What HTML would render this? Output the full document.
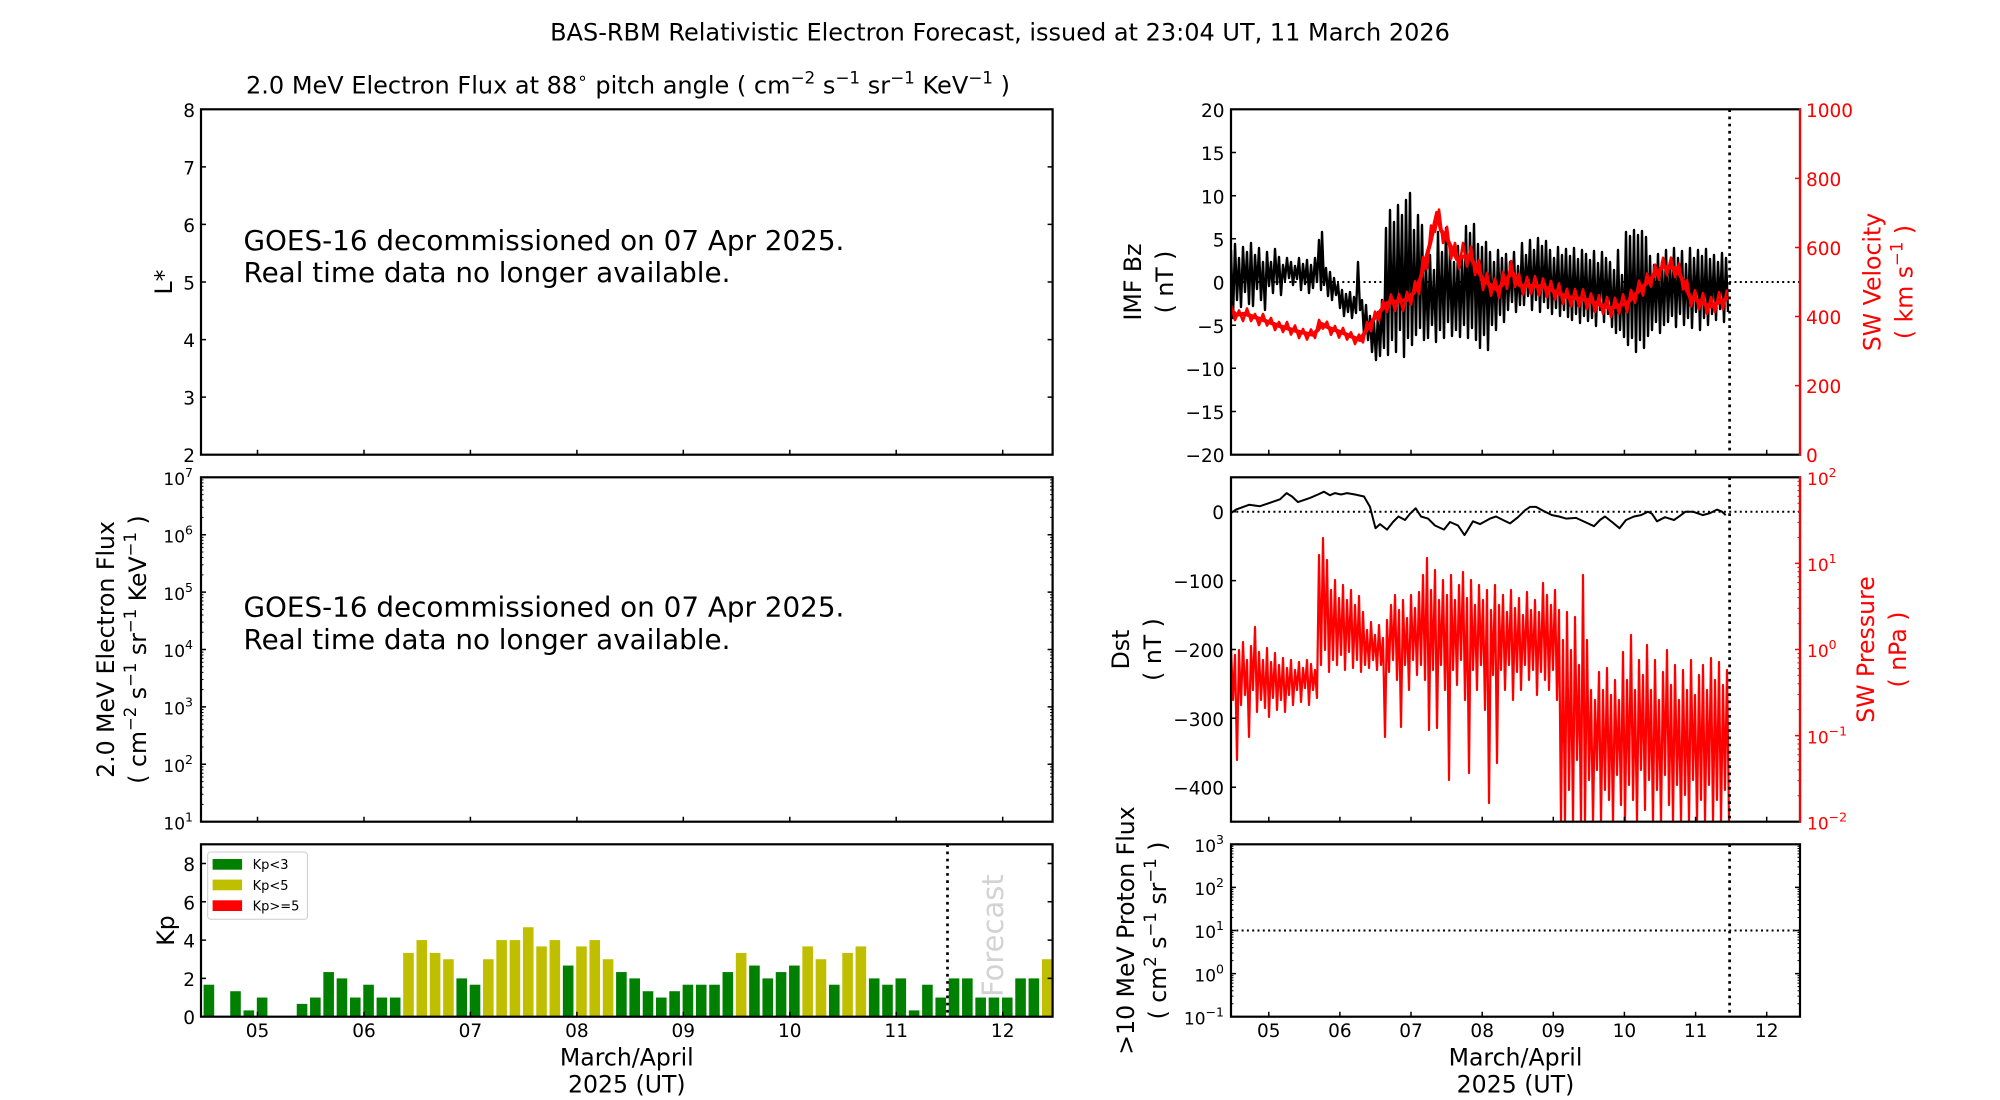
<!DOCTYPE html>
<html><head><meta charset="utf-8">
<style>
html,body{margin:0;padding:0;background:#fff;}
svg{display:block;font-family:"DejaVu Sans","Liberation Sans",sans-serif;}
</style></head><body>
<svg width="2000" height="1100" viewBox="0 0 2000 1100" xmlns="http://www.w3.org/2000/svg">
<defs>
<clipPath id="cA"><rect x="1231" y="109.3" width="569" height="345.4"/></clipPath>
<clipPath id="cB"><rect x="1231" y="477.3" width="569" height="344.4"/></clipPath>
<clipPath id="cC"><rect x="201" y="844.3" width="851.6" height="172.4"/></clipPath>
<path id="dtL" d="M257.5 0v-5M364 0v-5M470.4 0v-5M576.9 0v-5M683.3 0v-5M789.8 0v-5M896.2 0v-5M1002.7 0v-5" stroke="#000" stroke-width="1.5"/>
<path id="dtR" d="M1268.8 0v-5M1339.9 0v-5M1411 0v-5M1482.2 0v-5M1553.3 0v-5M1624.4 0v-5M1695.6 0v-5M1766.7 0v-5" stroke="#000" stroke-width="1.5"/>
<path id="mL57" d="M0 -17.28h2.5M0 -27.39h2.5M0 -34.56h2.5M0 -40.12h2.5M0 -44.67h2.5M0 -48.51h2.5M0 -51.84h2.5M0 -54.77h2.5" stroke="#000" stroke-width="1"/>
<path id="mR57" d="M0 -17.28h-2.5M0 -27.39h-2.5M0 -34.56h-2.5M0 -40.12h-2.5M0 -44.67h-2.5M0 -48.51h-2.5M0 -51.84h-2.5M0 -54.77h-2.5" stroke="#000" stroke-width="1"/>
<path id="mR86" d="M0 -25.92h-2.5M0 -41.08h-2.5M0 -51.84h-2.5M0 -60.18h-2.5M0 -67h-2.5M0 -72.76h-2.5M0 -77.76h-2.5M0 -82.16h-2.5" stroke="#ff0000" stroke-width="1"/>
<path id="mL43" d="M0 -12.97h2.5M0 -20.56h2.5M0 -25.95h2.5M0 -30.12h2.5M0 -33.54h2.5M0 -36.42h2.5M0 -38.92h2.5M0 -41.13h2.5" stroke="#000" stroke-width="1"/>
<path id="mR43" d="M0 -12.97h-2.5M0 -20.56h-2.5M0 -25.95h-2.5M0 -30.12h-2.5M0 -33.54h-2.5M0 -36.42h-2.5M0 -38.92h-2.5M0 -41.13h-2.5" stroke="#000" stroke-width="1"/>
</defs>
<rect width="2000" height="1100" fill="#fff"/>

<!-- Titles -->
<text x="1000" y="40.7" text-anchor="middle" font-size="24">BAS-RBM Relativistic Electron Forecast, issued at 23:04 UT, 11 March 2026</text>
<text x="628" y="93.3" text-anchor="middle" font-size="24">2.0 MeV Electron Flux at 88<tspan font-size="16.8" dy="-10">∘</tspan><tspan dy="10">  pitch angle ( cm</tspan><tspan font-size="16.8" dy="-10">−2</tspan><tspan dy="10"> s</tspan><tspan font-size="16.8" dy="-10">−1</tspan><tspan dy="10"> sr</tspan><tspan font-size="16.8" dy="-10">−1</tspan><tspan dy="10"> KeV</tspan><tspan font-size="16.8" dy="-10">−1</tspan><tspan dy="10"> )</tspan></text>

<!-- Left panel texts -->
<text x="243.5" y="250" font-size="27.8">GOES-16 decommissioned on 07 Apr 2025.</text>
<text x="243.5" y="282" font-size="27.8">Real time data no longer available.</text>
<text x="243.5" y="616.7" font-size="27.8">GOES-16 decommissioned on 07 Apr 2025.</text>
<text x="243.5" y="649" font-size="27.8">Real time data no longer available.</text>

<!-- L* tick labels -->
<g font-size="18.5" text-anchor="end">
<text x="195" y="117">8</text>
<text x="195" y="174.5">7</text>
<text x="195" y="232">6</text>
<text x="195" y="289.5">5</text>
<text x="195" y="347">4</text>
<text x="195" y="404.6">3</text>
<text x="195" y="462.2">2</text>
</g>
<g font-size="17" text-anchor="end">
<text x="193" y="485">10<tspan font-size="12.5" dy="-8">7</tspan></text>
<text x="193" y="542.4">10<tspan font-size="12.5" dy="-8">6</tspan></text>
<text x="193" y="599.8">10<tspan font-size="12.5" dy="-8">5</tspan></text>
<text x="193" y="657.2">10<tspan font-size="12.5" dy="-8">4</tspan></text>
<text x="193" y="714.6">10<tspan font-size="12.5" dy="-8">3</tspan></text>
<text x="193" y="772">10<tspan font-size="12.5" dy="-8">2</tspan></text>
<text x="193" y="829.4">10<tspan font-size="12.5" dy="-8">1</tspan></text>
</g>
<g font-size="18.5" text-anchor="end">
<text x="195" y="871">8</text>
<text x="195" y="909.3">6</text>
<text x="195" y="947.6">4</text>
<text x="195" y="985.9">2</text>
<text x="195" y="1024.2">0</text>
</g>
<g font-size="18.5" text-anchor="middle">
<text x="257.5" y="1037">05</text>
<text x="364" y="1037">06</text>
<text x="470.4" y="1037">07</text>
<text x="576.9" y="1037">08</text>
<text x="683.3" y="1037">09</text>
<text x="789.8" y="1037">10</text>
<text x="896.2" y="1037">11</text>
<text x="1002.7" y="1037">12</text>
</g>
<text x="626.8" y="1065.5" text-anchor="middle" font-size="23.6">March/April</text>
<text x="626.8" y="1092.5" text-anchor="middle" font-size="23.6">2025 (UT)</text>

<text transform="translate(172,282) rotate(-90)" text-anchor="middle" font-size="23.6">L*</text>
<text transform="translate(114,649.5) rotate(-90)" text-anchor="middle" font-size="23.6">2.0 MeV Electron Flux</text>
<text transform="translate(146,649.5) rotate(-90)" text-anchor="middle" font-size="23.6">( cm<tspan font-size="16.5" dy="-10">−2</tspan><tspan dy="10"> s</tspan><tspan font-size="16.5" dy="-10">−1</tspan><tspan dy="10"> sr</tspan><tspan font-size="16.5" dy="-10">−1</tspan><tspan dy="10"> KeV</tspan><tspan font-size="16.5" dy="-10">−1</tspan><tspan dy="10"> )</tspan></text>
<text transform="translate(174,930.5) rotate(-90)" text-anchor="middle" font-size="23.6">Kp</text>

<!-- IMF labels -->
<g font-size="18.5" text-anchor="end">
<text x="1224.5" y="117">20</text>
<text x="1224.5" y="160.2">15</text>
<text x="1224.5" y="203.3">10</text>
<text x="1224.5" y="246.5">5</text>
<text x="1224.5" y="289.6">0</text>
<text x="1224.5" y="332.8">−5</text>
<text x="1224.5" y="376">−10</text>
<text x="1224.5" y="419.1">−15</text>
<text x="1224.5" y="462.2">−20</text>
</g>
<g font-size="18.5" fill="#ff0000">
<text x="1806" y="117">1000</text>
<text x="1806" y="186">800</text>
<text x="1806" y="255">600</text>
<text x="1806" y="324.1">400</text>
<text x="1806" y="393.2">200</text>
<text x="1806" y="462.2">0</text>
</g>
<text transform="translate(1141,282) rotate(-90)" text-anchor="middle" font-size="23.6">IMF Bz</text>
<text transform="translate(1173,282) rotate(-90)" text-anchor="middle" font-size="23.6">( nT )</text>
<text transform="translate(1880.3,282) rotate(-90)" text-anchor="middle" font-size="23.6" fill="#ff0000">SW Velocity</text>
<text transform="translate(1912.3,282) rotate(-90)" text-anchor="middle" font-size="23.6" fill="#ff0000">( km s<tspan font-size="16.5" dy="-10">−1</tspan><tspan dy="10"> )</tspan></text>

<!-- Dst labels -->
<g font-size="18.5" text-anchor="end">
<text x="1224" y="519.2">0</text>
<text x="1224" y="588.1">−100</text>
<text x="1224" y="657">−200</text>
<text x="1224" y="725.8">−300</text>
<text x="1224" y="794.7">−400</text>
</g>
<g font-size="17" fill="#ff0000">
<text x="1807" y="485">10<tspan font-size="12.5" dy="-8">2</tspan></text>
<text x="1807" y="571.1">10<tspan font-size="12.5" dy="-8">1</tspan></text>
<text x="1807" y="657.2">10<tspan font-size="12.5" dy="-8">0</tspan></text>
<text x="1807" y="743.3">10<tspan font-size="12.5" dy="-8">−1</tspan></text>
<text x="1807" y="829.4">10<tspan font-size="12.5" dy="-8">−2</tspan></text>
</g>
<text transform="translate(1128.9,649.5) rotate(-90)" text-anchor="middle" font-size="23.6">Dst</text>
<text transform="translate(1160.9,649.5) rotate(-90)" text-anchor="middle" font-size="23.6">( nT )</text>
<text transform="translate(1874.1,649.5) rotate(-90)" text-anchor="middle" font-size="23.6" fill="#ff0000">SW Pressure</text>
<text transform="translate(1906.1,649.5) rotate(-90)" text-anchor="middle" font-size="23.6" fill="#ff0000">( nPa )</text>

<!-- Proton labels -->
<g font-size="17" text-anchor="end">
<text x="1224" y="852">10<tspan font-size="12.5" dy="-8">3</tspan></text>
<text x="1224" y="895.1">10<tspan font-size="12.5" dy="-8">2</tspan></text>
<text x="1224" y="938.2">10<tspan font-size="12.5" dy="-8">1</tspan></text>
<text x="1224" y="981.3">10<tspan font-size="12.5" dy="-8">0</tspan></text>
<text x="1224" y="1024.4">10<tspan font-size="12.5" dy="-8">−1</tspan></text>
</g>
<text transform="translate(1134.2,930.5) rotate(-90)" text-anchor="middle" font-size="23.6">&gt;10 MeV Proton Flux</text>
<text transform="translate(1166.2,930.5) rotate(-90)" text-anchor="middle" font-size="23.6">( cm<tspan font-size="16.5" dy="-10">2</tspan><tspan dy="10"> s</tspan><tspan font-size="16.5" dy="-10">−1</tspan><tspan dy="10"> sr</tspan><tspan font-size="16.5" dy="-10">−1</tspan><tspan dy="10"> )</tspan></text>
<g font-size="18.5" text-anchor="middle">
<text x="1268.8" y="1037">05</text>
<text x="1339.9" y="1037">06</text>
<text x="1411" y="1037">07</text>
<text x="1482.2" y="1037">08</text>
<text x="1553.3" y="1037">09</text>
<text x="1624.4" y="1037">10</text>
<text x="1695.6" y="1037">11</text>
<text x="1766.7" y="1037">12</text>
</g>
<text x="1515.5" y="1065.5" text-anchor="middle" font-size="23.6">March/April</text>
<text x="1515.5" y="1092.5" text-anchor="middle" font-size="23.6">2025 (UT)</text>

<!-- dotted reference lines -->
<g fill="none" stroke="#000" stroke-width="2" stroke-dasharray="2 3.3">
<line x1="1231" y1="282" x2="1800" y2="282"/>
<line x1="1231" y1="511.7" x2="1800" y2="511.7"/>
<line x1="1231" y1="930.5" x2="1800" y2="930.5"/>
</g>

<!-- Kp bars -->
<g clip-path="url(#cC)">
<g fill="#008000">
<rect x="203.6" y="984.71" width="10.6" height="31.99"/>
<rect x="230.21" y="991.22" width="10.6" height="25.48"/>
<rect x="243.52" y="1010.38" width="10.6" height="6.32"/>
<rect x="256.82" y="997.54" width="10.6" height="19.16"/>
<rect x="296.74" y="1003.87" width="10.6" height="12.83"/>
<rect x="310.05" y="997.54" width="10.6" height="19.16"/>
<rect x="323.35" y="972.07" width="10.6" height="44.63"/>
<rect x="336.66" y="978.39" width="10.6" height="38.31"/>
<rect x="349.97" y="997.54" width="10.6" height="19.16"/>
<rect x="363.27" y="984.71" width="10.6" height="31.99"/>
<rect x="376.58" y="997.54" width="10.6" height="19.16"/>
<rect x="389.88" y="997.54" width="10.6" height="19.16"/>
<rect x="456.41" y="978.39" width="10.6" height="38.31"/>
<rect x="469.72" y="984.71" width="10.6" height="31.99"/>
<rect x="562.86" y="965.55" width="10.6" height="51.15"/>
<rect x="616.09" y="972.07" width="10.6" height="44.63"/>
<rect x="629.39" y="978.39" width="10.6" height="38.31"/>
<rect x="642.7" y="991.22" width="10.6" height="25.48"/>
<rect x="656" y="997.54" width="10.6" height="19.16"/>
<rect x="669.31" y="991.22" width="10.6" height="25.48"/>
<rect x="682.62" y="984.71" width="10.6" height="31.99"/>
<rect x="695.92" y="984.71" width="10.6" height="31.99"/>
<rect x="709.23" y="984.71" width="10.6" height="31.99"/>
<rect x="722.53" y="972.07" width="10.6" height="44.63"/>
<rect x="749.15" y="965.55" width="10.6" height="51.15"/>
<rect x="762.45" y="978.39" width="10.6" height="38.31"/>
<rect x="775.76" y="972.07" width="10.6" height="44.63"/>
<rect x="789.06" y="965.55" width="10.6" height="51.15"/>
<rect x="828.98" y="984.71" width="10.6" height="31.99"/>
<rect x="868.9" y="978.39" width="10.6" height="38.31"/>
<rect x="882.21" y="984.71" width="10.6" height="31.99"/>
<rect x="895.51" y="978.39" width="10.6" height="38.31"/>
<rect x="908.82" y="1010.38" width="10.6" height="6.32"/>
<rect x="922.12" y="984.71" width="10.6" height="31.99"/>
<rect x="935.43" y="997.54" width="10.6" height="19.16"/>
<rect x="948.74" y="978.39" width="10.6" height="38.31"/>
<rect x="962.04" y="978.39" width="10.6" height="38.31"/>
<rect x="975.35" y="997.54" width="10.6" height="19.16"/>
<rect x="988.65" y="997.54" width="10.6" height="19.16"/>
<rect x="1001.96" y="997.54" width="10.6" height="19.16"/>
<rect x="1015.27" y="978.39" width="10.6" height="38.31"/>
<rect x="1028.57" y="978.39" width="10.6" height="38.31"/>
</g>
<g fill="#bfbf00">
<rect x="403.19" y="952.91" width="10.6" height="63.79"/>
<rect x="416.5" y="940.08" width="10.6" height="76.62"/>
<rect x="429.8" y="952.91" width="10.6" height="63.79"/>
<rect x="443.11" y="959.23" width="10.6" height="57.47"/>
<rect x="483.03" y="959.23" width="10.6" height="57.47"/>
<rect x="496.33" y="940.08" width="10.6" height="76.62"/>
<rect x="509.64" y="940.08" width="10.6" height="76.62"/>
<rect x="522.94" y="927.24" width="10.6" height="89.46"/>
<rect x="536.25" y="946.4" width="10.6" height="70.3"/>
<rect x="549.56" y="940.08" width="10.6" height="76.62"/>
<rect x="576.17" y="946.4" width="10.6" height="70.3"/>
<rect x="589.47" y="940.08" width="10.6" height="76.62"/>
<rect x="602.78" y="959.23" width="10.6" height="57.47"/>
<rect x="735.84" y="952.91" width="10.6" height="63.79"/>
<rect x="802.37" y="946.4" width="10.6" height="70.3"/>
<rect x="815.68" y="959.23" width="10.6" height="57.47"/>
<rect x="842.29" y="952.91" width="10.6" height="63.79"/>
<rect x="855.59" y="946.4" width="10.6" height="70.3"/>
<rect x="1041.88" y="959.23" width="10.6" height="57.47"/>
</g>
</g>
<text transform="translate(1003,997) rotate(-90)" font-size="29" fill="#d3d3d3">Forecast</text>

<!-- IMF Bz data -->
<g clip-path="url(#cA)" fill="none" stroke-linejoin="round">
<path stroke="#000" stroke-width="2.4" d="M1231 250L1233 318L1235 244L1237 300L1239 258L1241 307L1243 247L1245 292L1247 252L1249 304L1251 243L1253 306L1255 255L1257 289L1259 248L1261 300L1263 262L1265 310L1267 252L1269 286L1271 262L1273 293L1275 249L1277 284L1279 257L1281 295L1283 265L1285 280L1287 258L1289 278L1291 262L1293 285L1295 266L1297 279L1299 258L1301 290L1303 264L1305 284L1307 260L1309 293L1311 265L1313 288L1315 258L1317 282L1319 240L1321 290L1322 232L1324 285L1326 268L1328 296L1330 272L1332 300L1334 278L1336 295L1338 284L1340 308L1342 290L1344 316L1346 294L1348 312L1350 292L1352 318L1354 297L1356 313L1358 262L1360 310L1362 300L1364 335L1366 305L1368 340L1370 316L1372 352L1374 322L1376 360L1378 312L1380 356L1382 300L1384 348L1386 228L1388 355L1390 210L1392 340L1394 222L1396 352L1398 205L1400 330L1402 215L1404 357L1406 200L1408 338L1410 193L1412 345L1414 230L1416 335L1418 215L1420 328L1422 225L1424 340L1426 262L1428 338L1430 255L1432 325L1434 270L1436 342L1438 232L1440 330L1442 252L1444 338L1446 228L1448 322L1450 250L1452 336L1454 262L1456 330L1458 246L1460 337L1462 258L1464 325L1466 226L1468 338L1470 233L1472 328L1474 224L1476 340L1478 244L1480 348L1482 247L1484 335L1486 242L1488 350L1490 252L1492 325L1494 262L1496 330L1498 250L1500 315L1502 258L1504 322L1506 254L1508 310L1510 262L1512 302L1514 252L1516 312L1518 266L1520 305L1522 243L1524 305L1526 255L1528 296L1530 240L1532 310L1534 250L1536 300L1538 238L1540 312L1542 246L1544 302L1546 241L1548 308L1550 250L1552 314L1554 258L1556 308L1558 247L1560 316L1562 255L1564 310L1566 249L1568 317L1570 256L1572 320L1574 248L1576 314L1578 259L1580 323L1582 250L1584 316L1586 254L1588 321L1590 260L1592 318L1594 251L1596 326L1598 263L1600 310L1602 252L1604 322L1606 258L1608 314L1610 262L1612 327L1614 270L1616 333L1618 250L1620 330L1622 275L1624 337L1626 232L1628 345L1630 236L1632 338L1634 230L1636 352L1638 235L1640 340L1642 231L1644 348L1646 237L1648 336L1650 256L1652 330L1654 265L1656 322L1658 254L1660 333L1662 262L1664 325L1666 250L1668 322L1670 262L1672 316L1674 248L1676 327L1678 258L1680 314L1682 251L1684 325L1686 264L1688 318L1690 248L1692 328L1694 258L1696 312L1698 250L1700 330L1702 256L1704 318L1706 249L1708 325L1710 259L1712 314L1714 255L1716 320L1718 262L1720 309L1722 253L1724 322L1726 258L1728 312"/>
<!-- SW velocity -->
<path stroke="#ff0000" stroke-width="4" d="M1231 309.6L1236 314.8L1245 313.8L1263 320L1280 326.2L1300 332.1L1313 334.8L1318 329.7L1322 324.1L1330 328.3L1345 333.8L1360 340L1373 320L1387 303.1L1400 301L1407 300L1414 292.4L1420 279.9L1430 244L1437 212.9L1441 230.2L1447 238.8L1457 259.2L1465 256.1L1470 256.8L1477 268.2L1483 279.9L1497 289.9L1505 282L1512 271.6L1520 285.5L1543 286.5L1567 296.8L1587 300L1610 308.3L1627 303.1L1643 286.5L1663 266.8L1677 268.2L1690 296.8L1710 306.5L1729 297.5"/>
<path stroke="#ff0000" stroke-width="2.6" d="M1231 305L1235 320L1239 310.5L1243 321L1247 308.5L1251 321L1255 314L1259 325L1263 314L1267 325.5L1271 318L1275 330L1279 322L1283 332L1287 322L1291 334.5L1295 325.5L1299 338L1303 329L1307 339.5L1311 329.5L1315 338L1319 320L1323 328.6L1327 321.7L1331 334.7L1335 326L1339 337.6L1343 328L1347 339.6L1351 332.3L1355 344L1359 334.6L1363 342.4L1367 322L1371 331L1375 311.6L1379 320.8L1383 301L1387 312L1391 294.5L1395 310.8L1399 294L1403 310.6L1407 292L1411 304.7L1415 281.3L1419 294L1423 257L1427 268.8L1431 225.6L1435 231.8L1439 209.6L1443 243L1447 226.8L1451 259L1455 243L1459 268.4L1463 242.9L1467 266.4L1471 246.4L1475 274.9L1479 260L1483 290L1487 272.8L1491 295.6L1495 278.5L1499 297.9L1503 272L1507 289L1511 261L1515 286.8L1519 273.8L1523 294.6L1527 276.8L1531 294L1535 276.2L1539 295.3L1543 278.5L1547 297.2L1551 280.9L1555 299.7L1559 283.4L1563 304.1L1567 288.8L1571 306.4L1575 289.1L1579 306.7L1583 289.4L1587 309L1591 293.4L1595 311.9L1599 295.3L1603 313.8L1607 297.2L1611 317L1615 297.8L1619 313.5L1623 294.3L1627 312.1L1631 290L1635 302.8L1639 280.7L1643 295.5L1647 273.6L1651 286.6L1655 264.7L1659 279.7L1663 257.8L1667 275.2L1671 257.6L1675 277L1679 263.6L1683 289.4L1687 280.2L1691 306.3L1695 290.2L1699 309.2L1703 293.1L1707 314L1711 297L1715 312.1L1719 292.2L1723 309.3L1727 289.5"/>
</g>

<!-- Dst & pressure data -->
<g clip-path="url(#cB)" fill="none" stroke-linejoin="round">
<path stroke="#000" stroke-width="2" d="M1231 513.1L1236 509.6L1249 504.8L1260 506.2L1272 502.1L1280 499.3L1286.6 493.1L1292 496.5L1298 502.1L1310 497.9L1318 494.5L1324 491.7L1330 495.2L1335 493.1L1341 494.5L1347 493.1L1355 494.5L1364 496.5L1370 506.9L1375.5 528.2L1380 524.1L1387 529.6L1393 522L1398.5 516.5L1405 520L1410 513.8L1415.7 508.3L1421 516.5L1428 518.6L1435 525.5L1444 529.6L1450 522L1458 525.5L1464.5 535.1L1473 521.3L1480 524.1L1490 518.6L1496 516.5L1503 520L1510 523.4L1518 517.2L1525 510.3L1530 506.9L1536 506.9L1545 511.7L1552 515.1L1559 516.5L1566 518.6L1576 517.9L1585 522L1594 526.2L1600 520L1605 516.5L1612 522L1619.5 528.2L1626 520L1634 516.5L1641 515.1L1648 511.7L1652 513.8L1657 521.3L1665 517.2L1674 520L1680 515.8L1685.5 511.7L1693 511.7L1702.7 515.1L1710 513.1L1717 509.6L1722 511.7L1725.7 515.1"/>
<path stroke="#ff0000" stroke-width="2.2" d="M1231 648L1233 700L1235 655L1237 760L1239 650L1241 705L1243 642L1245 695L1247 660L1249 737L1251 646L1253 690L1255 627L1257 712L1259 652L1261 700L1263 660L1265 708L1267 648L1269 717L1271 662L1273 698L1275 653L1277 710L1279 665L1281 700L1283 658L1285 712L1287 668L1289 695L1291 660L1293 705L1295 670L1297 690L1299 662L1301 702L1303 668L1305 688L1307 660L1309 705L1311 664L1313 690L1315 670L1317 698L1319 555L1321 665L1323 538L1325 650L1327 560L1329 672L1331 590L1333 660L1335 580L1337 665L1339 598L1341 655L1343 585L1345 670L1347 600L1349 652L1351 590L1353 668L1355 605L1357 660L1359 596L1361 672L1363 612L1365 665L1367 630L1369 668L1371 622L1373 660L1375 635L1377 670L1379 625L1381 665L1383 638L1385 737L1387 620L1389 672L1391 605L1393 660L1395 595L1397 680L1399 610L1401 727L1403 600L1405 665L1407 618L1409 690L1411 595L1413 660L1415 608L1417 675L1419 592L1421 665L1423 575L1425 680L1427 558L1429 730L1431 590L1433 670L1435 570L1437 728L1439 600L1441 665L1443 580L1445 690L1447 595L1449 780L1451 575L1453 670L1455 600L1457 685L1459 585L1461 660L1463 572L1465 700L1467 598L1469 773L1471 580L1473 670L1475 605L1477 690L1479 585L1481 665L1483 600L1485 710L1487 590L1489 803L1491 610L1493 675L1495 585L1497 763L1499 605L1501 670L1503 595L1505 690L1507 612L1509 665L1511 590L1513 700L1515 608L1517 672L1519 598L1521 690L1523 615L1525 665L1527 592L1529 680L1531 610L1533 670L1535 600L1537 695L1539 612L1541 672L1543 583L1545 680L1547 595L1549 690L1551 605L1553 670L1555 590L1557 700L1559 610L1561 822L1563 640L1565 822L1567 612L1569 790L1571 650L1573 822L1575 617L1577 760L1579 665L1581 822L1583 575L1585 822L1587 640L1589 780L1591 690L1593 822L1595 700L1597 770L1599 672L1601 822L1603 690L1605 790L1607 668L1609 800L1611 695L1613 822L1615 680L1617 775L1619 700L1621 805L1623 652L1625 822L1627 680L1629 785L1631 635L1633 800L1635 690L1637 822L1639 660L1641 770L1643 675L1645 810L1647 645L1649 780L1651 690L1653 822L1655 660L1657 790L1659 700L1661 822L1663 672L1665 775L1667 650L1669 805L1671 685L1673 822L1675 665L1677 785L1679 700L1681 822L1683 670L1685 795L1687 690L1689 822L1691 660L1693 780L1695 695L1697 822L1699 675L1701 800L1703 665L1705 822L1707 690L1709 785L1711 658L1713 822L1715 680L1717 800L1719 662L1721 822L1723 685L1725 790L1727 670L1729 822"/>
</g>

<!-- vertical dotted lines -->
<g stroke="#000" stroke-width="2.7" stroke-dasharray="2.7 4.5">
<line x1="947.5" y1="844.3" x2="947.5" y2="1016.7"/>
<line x1="1729.6" y1="109.3" x2="1729.6" y2="454.7"/>
<line x1="1729.6" y1="477.3" x2="1729.6" y2="821.7"/>
<line x1="1729.6" y1="844.3" x2="1729.6" y2="1016.7"/>
</g>

<!-- legend -->
<rect x="207.7" y="852" width="99.7" height="67.3" rx="3" fill="#fff" fill-opacity="0.85" stroke="#cccccc" stroke-width="1"/>
<rect x="212.6" y="859" width="29.5" height="10.7" fill="#008000"/>
<rect x="212.6" y="879.6" width="29.5" height="10.7" fill="#bfbf00"/>
<rect x="212.6" y="900.3" width="29.5" height="10.7" fill="#ff0000"/>
<g font-size="13">
<text x="252.6" y="869.2">Kp&lt;3</text>
<text x="252.6" y="889.8">Kp&lt;5</text>
<text x="252.6" y="910.5">Kp&gt;=5</text>
</g>

<!-- ticks -->
<use href="#dtL" transform="translate(0,454.7)"/>
<use href="#dtL" transform="translate(0,821.7)"/>
<use href="#dtL" transform="translate(0,1016.7)"/>
<use href="#dtR" transform="translate(0,454.7)"/>
<use href="#dtR" transform="translate(0,821.7)"/>
<use href="#dtR" transform="translate(0,1016.7)"/>
<g stroke="#000" stroke-width="1.5" fill="none">
<path d="M201 166.9h5M201 224.4h5M201 282h5M201 339.6h5M201 397.1h5M1052.6 166.9h-5M1052.6 224.4h-5M1052.6 282h-5M1052.6 339.6h-5M1052.6 397.1h-5"/>
<path d="M201 534.7h5M201 592.1h5M201 649.5h5M201 706.9h5M201 764.3h5M1052.6 534.7h-5M1052.6 592.1h-5M1052.6 649.5h-5M1052.6 706.9h-5M1052.6 764.3h-5"/>
<path d="M201 978.4h5M201 940.1h5M201 901.8h5M201 863.5h5M1052.6 978.4h-5M1052.6 940.1h-5M1052.6 901.8h-5M1052.6 863.5h-5"/>
<path d="M1231 152.5h5M1231 195.7h5M1231 238.8h5M1231 282h5M1231 325.2h5M1231 368.3h5M1231 411.5h5"/>
<path d="M1231 511.7h5M1231 580.6h5M1231 649.5h5M1231 718.3h5M1231 787.2h5"/>
<path d="M1231 887.4h5M1231 930.5h5M1231 973.6h5M1800 887.4h-5M1800 930.5h-5M1800 973.6h-5"/>
</g>
<g stroke="#ff0000" stroke-width="1.5" fill="none">
<path d="M1800 178.4h-5M1800 247.5h-5M1800 316.5h-5M1800 385.6h-5"/>
<path d="M1800 563.4h-5M1800 649.5h-5M1800 735.6h-5"/>
</g>
<use href="#mL57" transform="translate(201,821.7)"/>
<use href="#mL57" transform="translate(201,764.3)"/>
<use href="#mL57" transform="translate(201,706.9)"/>
<use href="#mL57" transform="translate(201,649.5)"/>
<use href="#mL57" transform="translate(201,592.1)"/>
<use href="#mL57" transform="translate(201,534.7)"/>
<use href="#mR57" transform="translate(1052.6,821.7)"/>
<use href="#mR57" transform="translate(1052.6,764.3)"/>
<use href="#mR57" transform="translate(1052.6,706.9)"/>
<use href="#mR57" transform="translate(1052.6,649.5)"/>
<use href="#mR57" transform="translate(1052.6,592.1)"/>
<use href="#mR57" transform="translate(1052.6,534.7)"/>
<use href="#mR86" transform="translate(1800,821.7)"/>
<use href="#mR86" transform="translate(1800,735.6)"/>
<use href="#mR86" transform="translate(1800,649.5)"/>
<use href="#mR86" transform="translate(1800,563.4)"/>
<use href="#mL43" transform="translate(1231,1016.7)"/>
<use href="#mL43" transform="translate(1231,973.6)"/>
<use href="#mL43" transform="translate(1231,930.5)"/>
<use href="#mL43" transform="translate(1231,887.4)"/>
<use href="#mR43" transform="translate(1800,1016.7)"/>
<use href="#mR43" transform="translate(1800,973.6)"/>
<use href="#mR43" transform="translate(1800,930.5)"/>
<use href="#mR43" transform="translate(1800,887.4)"/>

<!-- frames -->
<g fill="none" stroke="#000" stroke-width="2.2">
<rect x="201" y="109.3" width="851.6" height="345.4"/>
<rect x="201" y="477.3" width="851.6" height="344.4"/>
<rect x="201" y="844.3" width="851.6" height="172.4"/>
<rect x="1231" y="109.3" width="569" height="345.4"/>
<rect x="1231" y="477.3" width="569" height="344.4"/>
<rect x="1231" y="844.3" width="569" height="172.4"/>
</g>
<line x1="1800" y1="108.2" x2="1800" y2="455.8" stroke="#ff0000" stroke-width="2.2"/>
<line x1="1800" y1="476.2" x2="1800" y2="822.8" stroke="#ff0000" stroke-width="2.2"/>
</svg>
</body></html>
